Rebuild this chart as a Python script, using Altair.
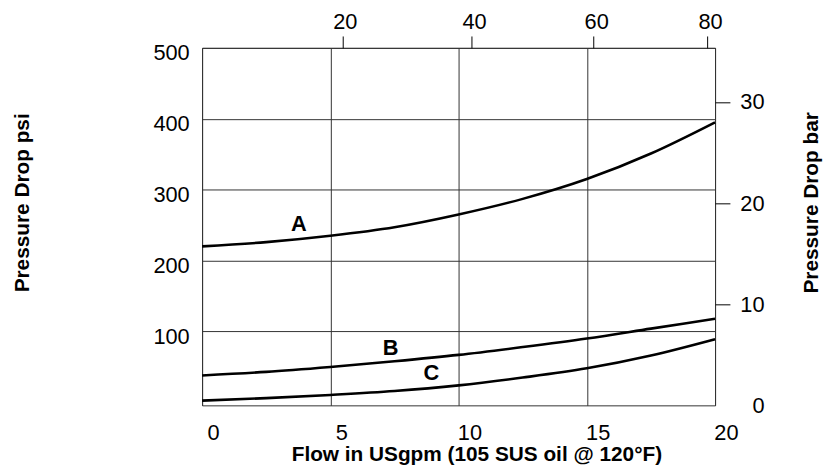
import altair as alt
import pandas as pd

# ---- data ----
gpm = [0, 2.5, 5, 7.5, 10, 12.5, 15, 17.5, 20]
curve_a = [220, 226, 235, 247, 265, 287, 315, 351, 395]
curve_b = [38, 43, 50, 58, 67, 78, 90, 104, 118]
curve_c = [2.5, 6, 10.5, 16, 24, 35, 48, 66, 89]

curve_names = ["A", "B", "C"]
label_gpm = [3.77, 7.35, 8.94]
label_psi = [251, 77, 41]

x_ticks = [0, 5, 10, 15, 20]
psi_ticks = [100, 200, 300, 400, 500]
bar_ticks = [0, 10, 20, 30]
lpm_labels = [20, 40, 60, 80]
lpm_tick_gpm = [5.47, 10.51, 15.27, 19.71]

FONT = "Liberation Sans"
GRID = "#333333"

rows = []
for name, vals in zip(curve_names, [curve_a, curve_b, curve_c]):
    for g, p in zip(gpm, vals):
        rows.append({"curve": name, "gpm": g, "psi": p})
lines_df = pd.DataFrame(rows)
labels_df = pd.DataFrame({"curve": curve_names, "gpm": label_gpm, "psi": label_psi})
aux_df = pd.DataFrame({"pos": lpm_tick_gpm, "bar": bar_ticks})

x_scale = alt.Scale(domain=[0, 20], nice=False, zero=False)
y_scale = alt.Scale(domain=[-4.2, 500], nice=False, zero=False)

x_axis = alt.Axis(
    orient="bottom", values=x_ticks, grid=True, gridColor=GRID, gridWidth=1,
    ticks=False, tickSize=0, domain=False, labelFlush=False, labelOverlap=False,
    labelFont=FONT, labelFontSize=22, labelColor="black", labelPadding=17, labelOffset=11,
    title="Flow in USgpm (105 SUS oil @ 120°F)", titleFont=FONT, titleFontSize=21,
    titleFontWeight="bold", titleColor="black", titleX=277, titleY=56,
    titleAlign="center", titleBaseline="alphabetic",
)
y_axis = alt.Axis(
    orient="left", values=psi_ticks, grid=True, gridColor=GRID, gridWidth=1,
    ticks=False, tickSize=0, domain=False, labelFlush=False, labelOverlap=False,
    labelFont=FONT, labelFontSize=22, labelColor="black", labelPadding=13, labelOffset=5,
    title="Pressure Drop psi", titleFont=FONT, titleFontSize=21, titleFontWeight="bold",
    titleColor="black", titleAngle=270, titleX=-175, titleY=156,
    titleAlign="center", titleBaseline="alphabetic",
)

X = alt.X("gpm:Q", scale=x_scale, axis=x_axis)
Y = alt.Y("psi:Q", scale=y_scale, axis=y_axis)

lines = alt.Chart(lines_df).mark_line(
    color="black", strokeWidth=2.6, interpolate="monotone"
).encode(x=X, y=Y, detail="curve:N")

labels = alt.Chart(labels_df).mark_text(
    font=FONT, fontSize=22, fontWeight="bold", color="black", align="center", baseline="middle"
).encode(x=X, y=Y, text="curve:N")

base = alt.layer(lines, labels)

label_expr = "[{}][indexof([{}], datum.value)]".format(
    ",".join("'{}'".format(v) for v in lpm_labels),
    ",".join(str(v) for v in lpm_tick_gpm),
)

top_axis = alt.Axis(
    orient="top", values=lpm_tick_gpm, labelExpr=label_expr, grid=False, domain=False,
    ticks=True, tickSize=12, tickColor="black", tickWidth=1, labelFlush=False,
    labelOverlap=False, labelFont=FONT, labelFontSize=22, labelColor="black",
    labelPadding=3, labelOffset=2.5, title="",
)
bar_axis = alt.Axis(
    orient="right", values=bar_ticks, grid=False, domain=False, ticks=True, tickSize=15,
    tickWidth=1,
    tickColor={"condition": {"test": "datum.value === 0", "value": "transparent"}, "value": "black"},
    labelFlush=False, labelOverlap=False, labelAlign="right", labelPadding=34.5,
    labelFont=FONT, labelFontSize=22, labelColor="black",
    title="Pressure Drop bar", titleFont=FONT, titleFontSize=21, titleFontWeight="bold",
    titleColor="black", titleAngle=270, titleX=103, titleY=156,
    titleAlign="center", titleBaseline="alphabetic",
)

aux = alt.Chart(aux_df).mark_point(opacity=0).encode(
    x=alt.X("pos:Q", scale=alt.Scale(domain=[0, 20], nice=False, zero=False), axis=top_axis),
    y=alt.Y("bar:Q", scale=alt.Scale(domain=[0, 35.36], nice=False, zero=False), axis=bar_axis),
)

chart = alt.layer(base, aux).resolve_scale(x="independent", y="independent").properties(
    width=518, height=361,
    autosize=alt.AutoSizeParams(type="none"),
    padding={"left": 196, "top": 38, "right": 109, "bottom": 60},
).configure_view(stroke=GRID, strokeWidth=1)

chart.save("out.html", embed_options={"renderer": "svg", "actions": False})
